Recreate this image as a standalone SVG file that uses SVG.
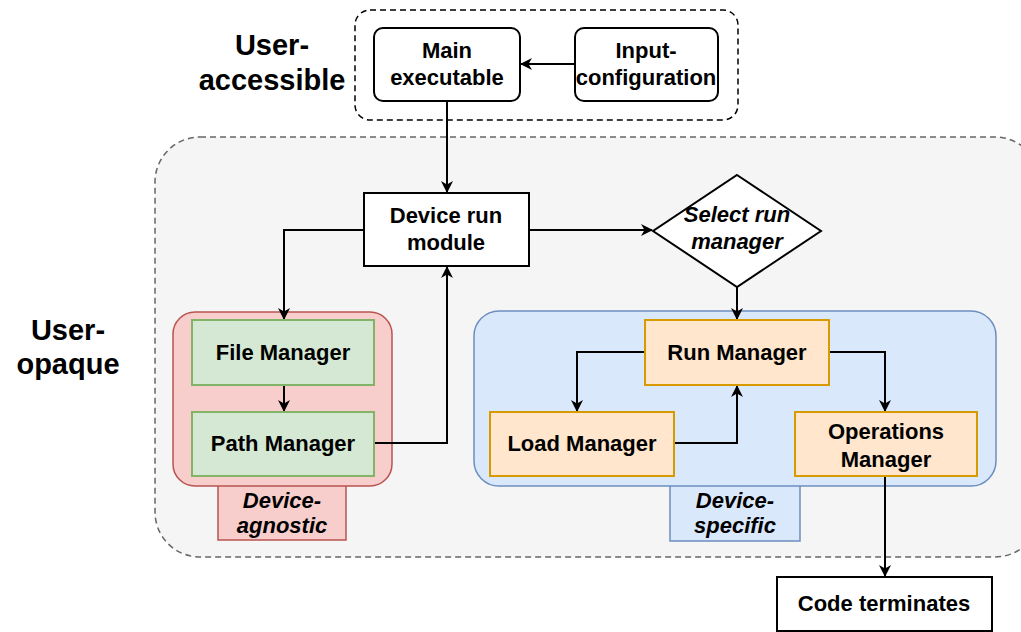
<svg xmlns="http://www.w3.org/2000/svg" width="1021" height="632" viewBox="0 0 1021 632">
  <defs>
    <marker id="arrow" viewBox="0 0 12 12" refX="11" refY="6" markerWidth="12" markerHeight="12" markerUnits="userSpaceOnUse" orient="auto">
      <path d="M0,0 L12,6 L0,12 L3.5,6 Z" fill="#000"/>
    </marker>
    <style>
      text { font-family: "Liberation Sans", Arial, Helvetica, sans-serif; font-weight: bold; fill: #000; text-anchor: middle; }
      .lbl { font-size: 22px; }
      .big { font-size: 29px; }
      .it { font-style: italic; }
      .plain { fill: #fff; stroke: #000; stroke-width: 2; }
      .green { fill: #d5e8d4; stroke: #82b366; stroke-width: 2; }
      .orange { fill: #ffe6cc; stroke: #d79b00; stroke-width: 2; }
      .red { fill: #f8cecc; stroke: #b85450; stroke-width: 1.5; }
      .blue { fill: #dae8fc; stroke: #6c8ebf; stroke-width: 1.5; }
      .edge { fill: none; stroke: #000; stroke-width: 2; marker-end: url(#arrow); }
    </style>
  </defs>

  <!-- region frames -->
  <g id="user-accessible-zone">
    <rect x="355" y="10" width="383" height="110" rx="15" fill="none" stroke="#000" stroke-width="1.5" stroke-dasharray="6 4"/>
    <text class="big" x="272" y="55">User-</text>
    <text class="big" x="272" y="90">accessible</text>
  </g>
  <g id="user-opaque-zone">
    <rect x="155" y="137" width="885" height="420" rx="45" fill="#f5f5f5" stroke="#666" stroke-width="1.5" stroke-dasharray="6 4"/>
    <text class="big" x="68" y="340">User-</text>
    <text class="big" x="68" y="374">opaque</text>
  </g>

  <g id="device-agnostic">
    <rect class="red" x="218" y="484" width="128" height="56"/>
    <rect class="red" x="173" y="312" width="219" height="174" rx="22"/>
    <text class="lbl it" x="282" y="508">Device-</text>
    <text class="lbl it" x="282" y="533">agnostic</text>
  </g>
  <g id="device-specific">
    <rect class="blue" x="670" y="484" width="130" height="57"/>
    <rect class="blue" x="474" y="311" width="522" height="175" rx="25"/>
    <text class="lbl it" x="735" y="508">Device-</text>
    <text class="lbl it" x="735" y="533">specific</text>
  </g>

  <!-- connectors -->
  <g id="connectors">
    <path class="edge" d="M575,64 L521,64"/>
    <path class="edge" d="M447,101 L447,192"/>
    <path class="edge" d="M364,230 L284,230 L284,319"/>
    <path class="edge" d="M529,230 L652,230"/>
    <path class="edge" d="M284,385 L284,411"/>
    <path class="edge" d="M374,443 L447,443 L447,267"/>
    <path class="edge" d="M737,287 L737,319"/>
    <path class="edge" d="M645,352 L577,352 L577,411"/>
    <path class="edge" d="M674,443 L737,443 L737,386"/>
    <path class="edge" d="M829,352 L885,352 L885,411"/>
    <path class="edge" d="M885,476 L885,576"/>
  </g>

  <!-- nodes -->
  <g id="main-executable">
    <rect class="plain" x="374" y="28" width="146" height="73" rx="9"/>
    <text class="lbl" x="447" y="58">Main</text>
    <text class="lbl" x="447" y="85">executable</text>
  </g>
  <g id="input-configuration">
    <rect class="plain" x="575" y="28" width="143" height="73" rx="9"/>
    <text class="lbl" x="646" y="58">Input-</text>
    <text class="lbl" x="646" y="85">configuration</text>
  </g>
  <g id="device-run-module">
    <rect class="plain" x="364" y="193" width="165" height="73"/>
    <text class="lbl" x="446" y="223">Device run</text>
    <text class="lbl" x="446" y="250">module</text>
  </g>
  <g id="select-run-manager">
    <polygon class="plain" points="737,175 821,231 737,287 653,231"/>
    <text class="lbl it" x="737" y="222">Select run</text>
    <text class="lbl it" x="737" y="249">manager</text>
  </g>
  <g id="file-manager">
    <rect class="green" x="192" y="320" width="182" height="65"/>
    <text class="lbl" x="283" y="360">File Manager</text>
  </g>
  <g id="path-manager">
    <rect class="green" x="192" y="412" width="182" height="64"/>
    <text class="lbl" x="283" y="451">Path Manager</text>
  </g>
  <g id="run-manager">
    <rect class="orange" x="645" y="320" width="184" height="65"/>
    <text class="lbl" x="737" y="360">Run Manager</text>
  </g>
  <g id="load-manager">
    <rect class="orange" x="490" y="412" width="184" height="64"/>
    <text class="lbl" x="582" y="451">Load Manager</text>
  </g>
  <g id="operations-manager">
    <rect class="orange" x="795" y="412" width="182" height="64"/>
    <text class="lbl" x="886" y="439">Operations</text>
    <text class="lbl" x="886" y="467">Manager</text>
  </g>
  <g id="code-terminates">
    <rect class="plain" x="777" y="577" width="215" height="54"/>
    <text class="lbl" x="884" y="611">Code terminates</text>
  </g>
</svg>
